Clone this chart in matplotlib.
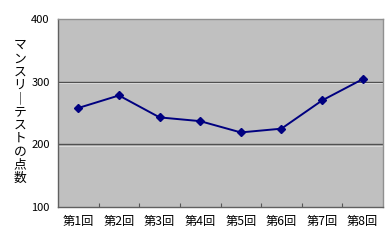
import matplotlib
matplotlib.use("Agg")
import matplotlib.pyplot as plt

plt.rcParams['font.family'] = ['Noto Sans CJK JP', 'DejaVu Sans']

rounds = ["第1回", "第2回", "第3回", "第4回", "第5回", "第6回", "第7回", "第8回"]
scores = [258, 278, 243, 237, 219, 225, 270, 304]
y_ticks = [100, 200, 300, 400]
y_label = "マンスリーテストの点数"

fig = plt.figure(figsize=(3.9, 2.43), dpi=100)
ax = fig.add_axes([58 / 390, 1 - 207 / 243, 325 / 390, 188 / 243])
ax.set_facecolor("#c0c0c0")

x = list(range(len(rounds)))
ax.plot(x, scores, color="#000080", lw=1.4, marker="D", ms=4.2, zorder=3)

ax.set_xlim(-0.5, len(rounds) - 0.5)
ax.set_ylim(100, 400)
ax.set_yticks(y_ticks)
ax.set_yticklabels([str(v) for v in y_ticks], fontsize=8)
ax.tick_params(axis="y", length=0, pad=6)

# categories sit between the tick marks
ax.set_xticks([i + 0.5 for i in x[:-1]])
ax.set_xticklabels([])
ax.set_xticks(x, minor=True)
ax.set_xticklabels(rounds, minor=True, fontsize=8.8)
ax.tick_params(axis="x", which="major", direction="in", length=3, color="#555555")
ax.tick_params(axis="x", which="minor", length=0, pad=6)

for v in y_ticks[1:-1]:
    ax.axhline(v, color="#505050", lw=1.0, zorder=1)
    ax.axhline(v - 2.2, color="#e0e0e0", lw=0.6, zorder=1)

ax.spines["left"].set_color("#606060")
ax.spines["bottom"].set_color("#606060")
ax.spines["top"].set_color("#909090")
ax.spines["right"].set_color("#909090")
for s in ax.spines.values():
    s.set_linewidth(1.0)

fig.text(20 / 390, 1 - 112 / 243, "\n".join(y_label.replace("ー", "｜")),
         fontsize=9.2, ha="center", va="center", linespacing=1.03)

fig.savefig("out.png", dpi=100)
